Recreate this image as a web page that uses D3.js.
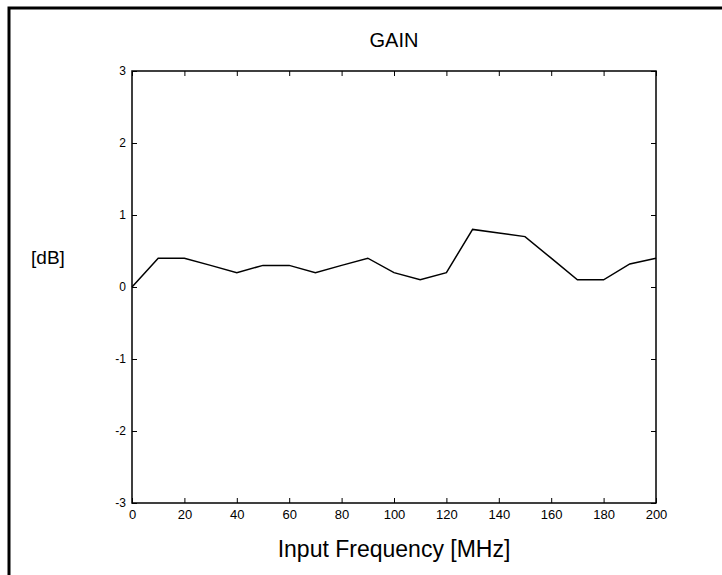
<!DOCTYPE html>
<html>
<head>
<meta charset="utf-8">
<script src="https://cdn.jsdelivr.net/npm/d3@7"></script>
<style>
  body { margin: 0; background: #fff; }
  text { font-family: "Liberation Sans", Arial, sans-serif; fill: #000; }
</style>
</head>
<body>
<div id="chart"></div>
<script>
// gain measured every 10 MHz
var freqs = [0, 10, 20, 30, 40, 50, 60, 70, 80, 90, 100, 110, 120, 130, 140, 150, 160, 170, 180, 190, 200];
var gainDb = [0, 0.4, 0.4, 0.3, 0.2, 0.3, 0.3, 0.2, 0.3, 0.4, 0.2, 0.1, 0.2, 0.8, 0.75, 0.7, 0.4, 0.1, 0.1, 0.32, 0.4];
var xTicks = [0, 20, 40, 60, 80, 100, 120, 140, 160, 180, 200];
var yTicks = [-3, -2, -1, 0, 1, 2, 3];

var W = 722, H = 575;
var margin = {top: 71, right: 66, bottom: 72, left: 132},
    width = W - margin.left - margin.right,
    height = H - margin.top - margin.bottom;

var root = d3.select("#chart").append("svg")
    .attr("width", W)
    .attr("height", H);

// outer frame (runs off the right and bottom edge)
root.append("rect")
    .attr("x", 9).attr("y", 8)
    .attr("width", W + 20).attr("height", H + 20)
    .attr("fill", "none")
    .attr("stroke", "#000")
    .attr("stroke-width", 3);

var svg = root.append("g")
    .attr("transform", "translate(" + margin.left + "," + margin.top + ")");

var x = d3.scaleLinear().domain([0, 200]).range([0, width]);
var y = d3.scaleLinear().domain([-3, 3]).range([height, 0]);

var plain = function(d) { return String(d); };

function styleAxis(g) {
  g.select(".domain").remove();
  g.selectAll("line").attr("stroke", "#000").attr("stroke-width", 1);
  g.selectAll("text").style("font-size", "13px");
}

// bottom / left with labels, ticks pointing inward
svg.append("g")
    .attr("transform", "translate(0," + height + ")")
    .call(d3.axisBottom(x).tickValues(xTicks).tickFormat(plain).tickSizeInner(-5).tickSizeOuter(0).tickPadding(7))
    .call(styleAxis);

svg.append("g")
    .call(d3.axisLeft(y).tickValues(yTicks).tickFormat(plain).tickSizeInner(-5).tickSizeOuter(0).tickPadding(6))
    .call(styleAxis)
    .selectAll("text").style("font-size", "12px");

// top / right: ticks only
svg.append("g")
    .call(d3.axisTop(x).tickValues(xTicks).tickSizeInner(-5).tickSizeOuter(0).tickFormat(""))
    .call(styleAxis);

svg.append("g")
    .attr("transform", "translate(" + width + ",0)")
    .call(d3.axisRight(y).tickValues(yTicks).tickSizeInner(-5).tickSizeOuter(0).tickFormat(""))
    .call(styleAxis);

// plot box
svg.append("rect")
    .attr("width", width).attr("height", height)
    .attr("fill", "none")
    .attr("stroke", "#000")
    .attr("stroke-width", 1.5);

var line = d3.line()
    .x(function(d, i) { return x(freqs[i]); })
    .y(function(d) { return y(d); });

svg.append("path")
    .datum(gainDb)
    .attr("fill", "none")
    .attr("stroke", "#000")
    .attr("stroke-width", 1.5)
    .attr("d", line);

// title
svg.append("text")
    .attr("x", width / 2)
    .attr("y", -24)
    .attr("text-anchor", "middle")
    .style("font-size", "20px")
    .text("GAIN");

// y label
root.append("text")
    .attr("x", 48)
    .attr("y", y(0.4) + margin.top + 6)
    .attr("text-anchor", "middle")
    .style("font-size", "19px")
    .text("[dB]");

// x label
svg.append("text")
    .attr("x", width / 2)
    .attr("y", height + 54)
    .attr("text-anchor", "middle")
    .style("font-size", "23px")
    .text("Input Frequency [MHz]");
</script>
</body>
</html>
